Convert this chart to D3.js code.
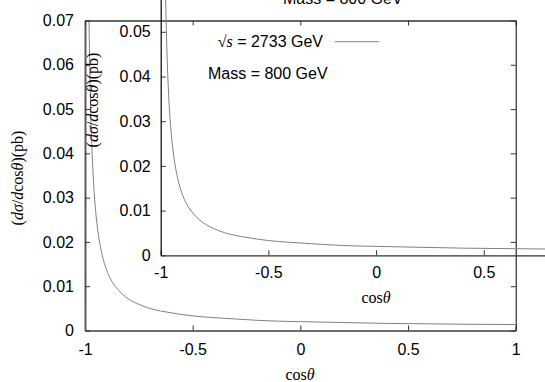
<!DOCTYPE html>
<html>
<head>
  <meta charset="UTF-8">
  <script src="https://d3js.org/d3.v7.min.js"></script>
  <style>
    body { margin: 0; background: #fff; }
    svg { display: block; }
    .num { font-family: 'Liberation Sans', Arial, sans-serif; font-size: 16px; fill: #000; }
    .ser { font-family: 'Liberation Serif', 'Times New Roman', serif; font-size: 16px; fill: #000; }
  </style>
</head>
<body>
<svg width="545" height="382"></svg>
<script>
// values
const cosTheta = [-0.99, -0.985, -0.98, -0.975, -0.97, -0.96, -0.95, -0.94, -0.92, -0.9, -0.88, -0.85,
  -0.8, -0.75, -0.7, -0.6, -0.5, -0.4, -0.3, -0.2, -0.1, 0, 0.2, 0.4, 0.6, 0.8, 1.0];
const dsigma = [0.131, 0.0874, 0.0657, 0.0527, 0.0440, 0.0332, 0.0267, 0.0224, 0.0170, 0.0137, 0.0115, 0.0094,
  0.0072, 0.0059, 0.0050, 0.0040, 0.0033, 0.0029, 0.0026, 0.0023, 0.0021, 0.0020, 0.0018, 0.0016, 0.0015, 0.0014, 0.00135];
const outerXTicks = [-1, -0.5, 0, 0.5, 1];
const insetXTicks = [-1, -0.5, 0, 0.5];
const outerYTicks = [0, 0.01, 0.02, 0.03, 0.04, 0.05, 0.06, 0.07];
const insetYTicks = [0, 0.01, 0.02, 0.03, 0.04, 0.05];
const legendLabel = "2733 GeV";
const massLabel = "Mass = 800 GeV";

const svg = d3.select("svg");
const pts = cosTheta.map((c, i) => [c, dsigma[i]]);
const fmt = d => d === 0 ? "0" : String(d);

function ylabel(g, x, y) {
  const t = g.append("text").attr("class", "ser")
    .attr("transform", `translate(${x},${y}) rotate(-90)`)
    .attr("text-anchor", "middle").attr("dy", "0.32em");
  t.append("tspan").text("(");
  t.append("tspan").attr("font-style", "italic").text("d\u03c3");
  t.append("tspan").text("/");
  t.append("tspan").attr("font-style", "italic").text("d");
  t.append("tspan").text("cos");
  t.append("tspan").attr("font-style", "italic").text("\u03b8");
  t.append("tspan").text(")(pb)");
}
function xlabel(g, x, y) {
  const t = g.append("text").attr("class", "ser").attr("x", x).attr("y", y).attr("text-anchor", "middle");
  t.append("tspan").text("cos");
  t.append("tspan").attr("font-style", "italic").text("\u03b8");
}

function plot(opt) {
  const x = d3.scaleLinear().domain([-1, 1]).range(opt.xr);
  const y = d3.scaleLinear().domain(opt.yd).range(opt.yr);
  const g = svg.append("g");
  const clipId = "clip" + opt.id;
  svg.append("clipPath").attr("id", clipId).append("rect")
    .attr("x", opt.xr[0]).attr("y", opt.yr[1])
    .attr("width", opt.xr[1] - opt.xr[0]).attr("height", opt.yr[0] - opt.yr[1]);

  g.append("path").datum(pts)
    .attr("clip-path", `url(#${clipId})`)
    .attr("fill", "none").attr("stroke", "#808080").attr("stroke-width", 1)
    .attr("d", d3.line().x(d => x(d[0])).y(d => y(d[1])).curve(d3.curveMonotoneX));

  const ax = (axis, tr, showLabels, stroke, sw, pad) => {
    const a = g.append("g").attr("transform", tr).call(axis.tickSize(-5).tickSizeOuter(0).tickPadding(pad));
    a.select(".domain").attr("stroke", stroke).attr("stroke-width", sw);
    a.selectAll(".tick line").attr("stroke", "#333");
    a.selectAll("text").attr("class", "num").attr("fill", "#000").attr("font-family", null).attr("font-size", null);
    if (!showLabels) a.selectAll("text").remove();
    return a;
  };
  ax(d3.axisBottom(x).tickValues(opt.xTicks).tickFormat(fmt), `translate(0,${opt.yr[0]})`, true, opt.bottomStroke, opt.bottomW, opt.xPad);
  ax(d3.axisLeft(y).tickValues(opt.yTicks).tickFormat(fmt), `translate(${opt.xr[0]},0)`, true, opt.leftStroke, opt.leftW, opt.yPad);
  ax(d3.axisTop(x).tickValues(opt.xTicks), `translate(0,${opt.yr[1]})`, false, opt.topStroke, opt.topW, 0);
  ax(d3.axisRight(y).tickValues(opt.yTicks), `translate(${opt.xr[1]},0)`, false, "#000", 1, 0);
  return { x, y, g };
}

// outer panel
const outer = plot({
  id: "o", xr: [85, 515.7], yd: [0, 0.07], yr: [330.5, 20.5], xTicks: outerXTicks, yTicks: outerYTicks,
  bottomStroke: "#6e6e6e", bottomW: 1.8, leftStroke: "#5a5a5a", leftW: 2, topStroke: "#333", topW: 1.4,
  xPad: 13, yPad: 11
});
ylabel(outer.g, 18, 178);
xlabel(outer.g, 300, 380);
outer.g.append("text").attr("class", "num").attr("x", 283).attr("y", 4).text(massLabel);

// inset panel
const inset = plot({
  id: "i", xr: [160.7, 591.5], yd: [0, 0.06], yr: [255.3, -12.9], xTicks: insetXTicks, yTicks: insetYTicks,
  bottomStroke: "#333", bottomW: 1.2, leftStroke: "#000", leftW: 1.2, topStroke: "#000", topW: 1,
  xPad: 11, yPad: 10
});
ylabel(inset.g, 93, 100);
xlabel(inset.g, 376, 303);
const leg = inset.g.append("text").attr("x", 323).attr("y", 47).attr("text-anchor", "end");
leg.append("tspan").attr("class", "ser").text("\u221a");
leg.append("tspan").attr("class", "ser").attr("font-style", "italic").text("s");
leg.append("tspan").attr("class", "num").text(" = " + legendLabel);
inset.g.append("line").attr("x1", 335).attr("x2", 379).attr("y1", 41.7).attr("y2", 41.7)
  .attr("stroke", "#808080").attr("stroke-width", 1);
inset.g.append("text").attr("class", "num").attr("x", 208).attr("y", 79).text(massLabel);
</script>
</body>
</html>
